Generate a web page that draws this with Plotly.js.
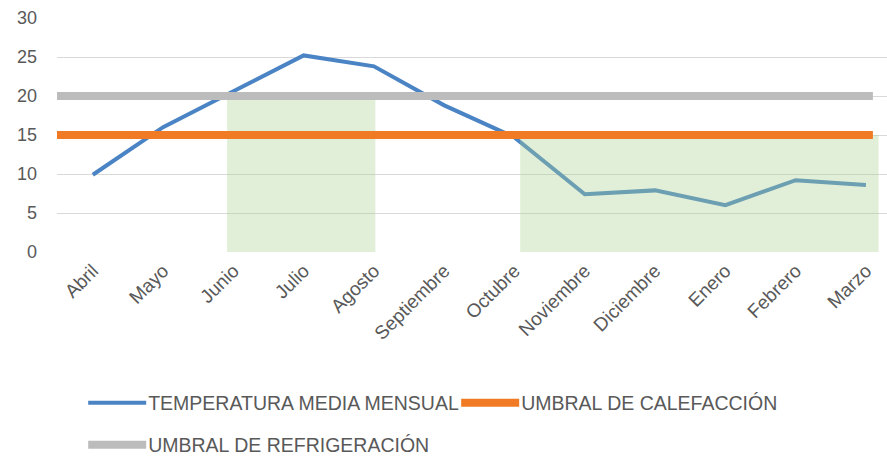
<!DOCTYPE html>
<html>
<head>
<meta charset="utf-8">
<script src="https://cdn.plot.ly/plotly-3.0.1.min.js"></script>
<style>
html,body{margin:0;padding:0;background:#fff;}
#chart{width:887px;height:456px;}
</style>
</head>
<body>
<div id="chart"></div>
<script>
// Month categories (x axis tick labels)
const meses = ["Abril","Mayo","Junio","Julio","Agosto","Septiembre","Octubre","Noviembre","Diciembre","Enero","Febrero","Marzo"];
// Mean monthly temperature (°C)
const temperaturaMedia = [9.9, 16.0, 20.6, 25.2, 23.8, 18.8, 14.7, 7.4, 7.9, 6.0, 9.2, 8.6];
// Thresholds, one value per month
const umbralCalefaccion = [15,15,15,15,15,15,15,15,15,15,15,15];
const umbralRefrigeracion = [20,20,20,20,20,20,20,20,20,20,20,20];
// Shaded zones (category-index span) and their top value
const zonaInicio = [1.91, 6.08];
const zonaFin = [4.02, 11.18];
const zonaTope = [20, 15];
// Y axis ticks
const yTicks = [0, 5, 10, 15, 20, 25, 30];

const idx = meses.map((m, i) => i);
const font = "Liberation Sans, Arial, sans-serif";
const gris = "#595959";

const traces = [];
traces.push({
  type: "scatter", mode: "lines", name: "TEMPERATURA MEDIA MENSUAL",
  x: idx, y: temperaturaMedia, xaxis: "x", yaxis: "y",
  line: {color: "#4b84c4", width: 4}, legend: "legend", legendrank: 1,
  hoverinfo: "skip"
});
zonaInicio.forEach((x0, k) => {
  const x1 = zonaFin[k], top = zonaTope[k];
  traces.push({
    type: "scatter", mode: "lines", showlegend: false,
    x: [x0, x1, x1, x0, x0], y: [0, 0, top, top, 0],
    fill: "toself", fillcolor: "rgba(169,208,142,0.35)",
    line: {width: 0, color: "rgba(0,0,0,0)"}, hoverinfo: "skip"
  });
});
traces.push({
  type: "scatter", mode: "lines", name: "UMBRAL DE CALEFACCIÓN",
  x: idx, y: umbralCalefaccion, xaxis: "x2", yaxis: "y",
  line: {color: "#f07b24", width: 8}, legend: "legend", legendrank: 2,
  hoverinfo: "skip"
});
traces.push({
  type: "scatter", mode: "lines", name: "UMBRAL DE REFRIGERACIÓN",
  x: idx, y: umbralRefrigeracion, xaxis: "x2", yaxis: "y",
  line: {color: "#bdbcbc", width: 8}, legend: "legend2", legendrank: 3,
  hoverinfo: "skip"
});

const layout = {
  width: 887, height: 456,
  margin: {l: 57, r: 0, t: 18, b: 204},
  paper_bgcolor: "#fff", plot_bgcolor: "#fff",
  font: {family: font, color: gris},
  showlegend: true,
  xaxis: {
    type: "linear", range: [-0.51, 11.3], automargin: false,
    tickvals: idx, ticktext: meses, tickangle: -45,
    showgrid: false, zeroline: false, showline: false, ticks: "",
    ticklabelstandoff: 3,
    tickfont: {family: font, size: 19, color: gris}
  },
  xaxis2: {
    type: "linear", overlaying: "x", range: [0, 11.19],
    visible: false, showgrid: false, zeroline: false
  },
  yaxis: {
    range: [0, 30], tickvals: yTicks, ticks: "", automargin: false,
    showgrid: true, gridcolor: "#d9d9d9", gridwidth: 1,
    zeroline: false, showline: false, ticklabelstandoff: 19,
    tickfont: {family: font, size: 18, color: gris}
  },
  legend: {
    orientation: "h", xref: "container", yref: "container",
    x: 0.0904, xanchor: "left", y: 0.116, yanchor: "middle",
    font: {family: font, size: 19.5, color: gris}, itemwidth: 58,
    entrywidth: 300,
    bgcolor: "rgba(0,0,0,0)"
  },
  legend2: {
    orientation: "h", xref: "container", yref: "container",
    x: 0.0904, xanchor: "left", y: 0.024, yanchor: "middle",
    font: {family: font, size: 19.5, color: gris}, itemwidth: 58,
    bgcolor: "rgba(0,0,0,0)"
  }
};

Plotly.newPlot("chart", traces, layout, {displayModeBar: false, staticPlot: true}).then(gd => {
  // widen the legend line samples to span the item width, as in the original
  gd.querySelectorAll(".legendlines path").forEach(p => p.setAttribute("d", "M8,0h58"));
});
</script>
</body>
</html>
